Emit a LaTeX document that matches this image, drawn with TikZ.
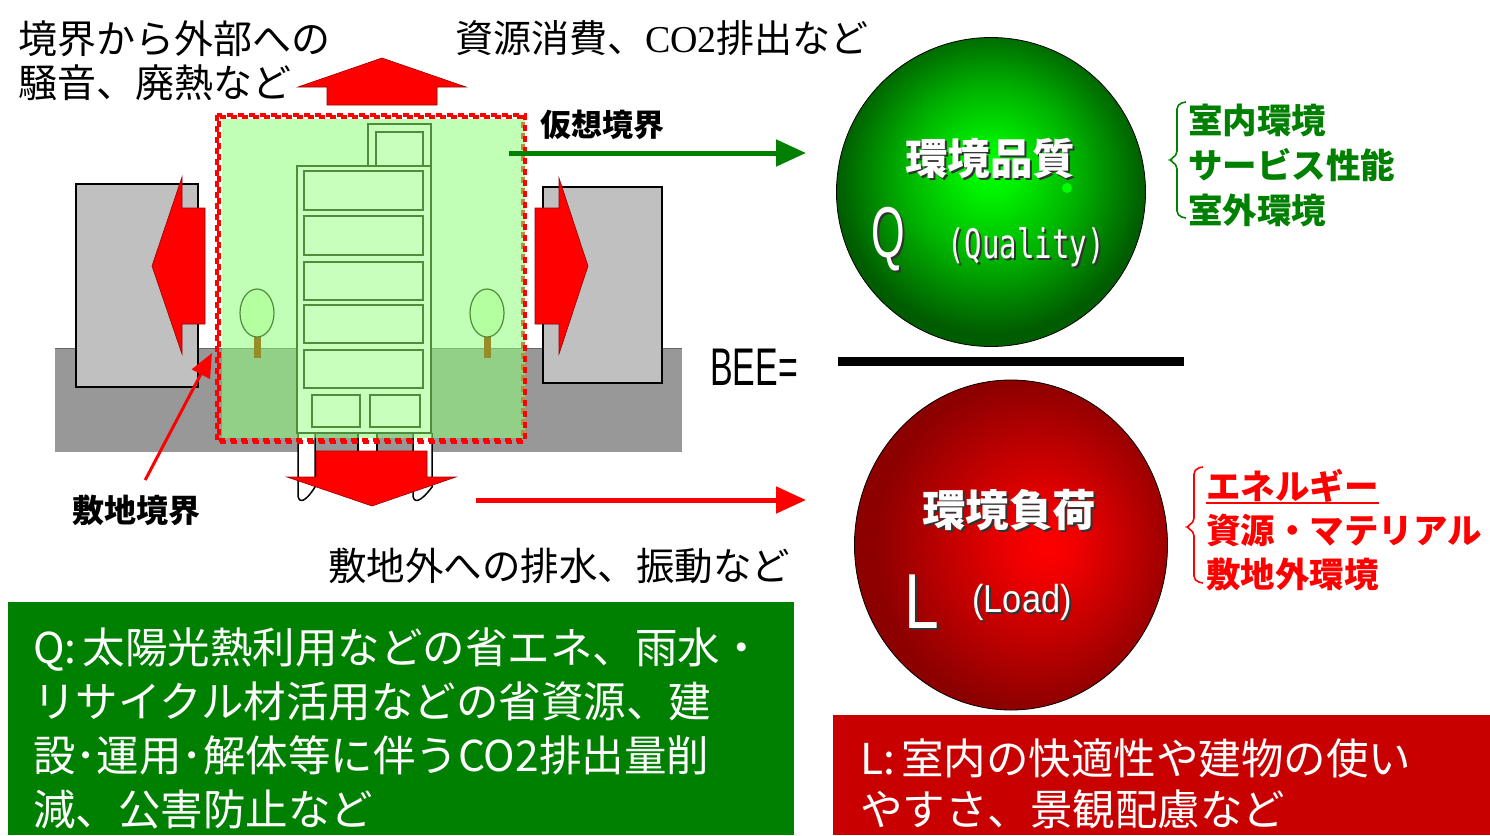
\documentclass[tikz,border=0pt]{standalone}
\usepackage{fontspec}
\newfontfamily\jp{Noto Sans CJK JP}
\newfontfamily\lsans{Liberation Sans}
\newfontfamily\lserif{Liberation Serif}
\newfontfamily\dmono{DejaVu Sans Mono}
\usetikzlibrary{arrows.meta, shapes.geometric}

\definecolor{qgreen}{RGB}{0,128,0}
\definecolor{lred}{RGB}{255,0,0}
\definecolor{boxred}{RGB}{200,0,0}
\definecolor{groundgray}{RGB}{152,152,152}
\definecolor{nextdoor}{RGB}{192,192,192}
\definecolor{veil}{RGB}{140,255,120}
\definecolor{bldgfill}{RGB}{200,255,188}
\definecolor{bldgline}{RGB}{80,140,60}
\definecolor{treefill}{RGB}{180,255,160}
\definecolor{trunk}{RGB}{150,140,40}

% shaded spheres for Q and L
\pgfdeclareradialshading{qsphere}{\pgfpoint{0bp}{4bp}}{rgb(0bp)=(0,1,0); rgb(4bp)=(0,0.95,0); rgb(14bp)=(0,0.70,0); rgb(25bp)=(0,0.36,0); rgb(50bp)=(0,0.36,0)}
\pgfdeclareradialshading{lsphere}{\pgfpoint{6bp}{0bp}}{rgb(0bp)=(1,0,0); rgb(5bp)=(0.94,0,0); rgb(25bp)=(0.55,0,0); rgb(50bp)=(0.55,0,0)}

% white lettering with a dark drop shadow
\newcommand{\whitelabel}[4]{%
  \node[anchor=base, inner sep=0pt, font=#3, text=black!80] (#1-shadow) at ([xshift=2pt,yshift=-2pt]#2) {#4};
  \node[anchor=base, inner sep=0pt, font=#3, text=white] (#1) at (#2) {#4};
}

\begin{document}
\begin{tikzpicture}[
    x=1pt, y=-1pt,
    jptext/.style={anchor=base west, inner sep=0pt, font=\jp\fontsize{39}{46}\selectfont},
    boldlabel/.style={anchor=base west, inner sep=0pt, font=\jp\bfseries\fontsize{31}{38}\selectfont},
    listtext/.style={anchor=base west, inner sep=0pt, font=\jp\bfseries\fontsize{34.5}{40}\selectfont},
    boxtext/.style={anchor=base west, inner sep=0pt, text=white, font=\jp\fontsize{42.5}{50}\selectfont},
    redblock/.style={fill=lred, draw=red!60!black, line width=0.6pt},
    winbox/.style={draw=bldgline, line width=1.6pt, fill=bldgfill},
    flow/.style={line width=5pt, -{Triangle[length=30pt, width=26pt]}},
    bracepath/.style={line width=1.6pt, rounded corners=5pt}
]
\useasboundingbox (0,0) rectangle (1490,835);

% ===== Site: ground and neighbours =====
\fill[groundgray] (55,348) rectangle (682,452);
\draw[black!60, line width=1pt] (55,348) -- (682,348);
\draw[fill=nextdoor, draw=black, line width=1.5pt] (76,184) rectangle (198,387);
\draw[fill=nextdoor, draw=black, line width=1.5pt] (543,187) rectangle (662,383);

% sideways arrows into the neighbours
\draw[redblock] (205,208) -- (182,208) -- (182,177) -- (152,266) -- (182,354) -- (182,324) -- (205,324) -- cycle;
\draw[redblock] (535,208) -- (559,208) -- (559,178) -- (588,266) -- (559,354) -- (559,324) -- (535,324) -- cycle;

% upward arrow
\draw[redblock] (327,105) -- (327,87) -- (298,87) -- (382,58) -- (466,87) -- (437,87) -- (437,105) -- cycle;

% drain pipes below the building
\draw[fill=white, draw=black, line width=1.5pt] (298,433) -- (298,496) .. controls (299,503) and (305,503) .. (315,487) -- (315,433);
\draw[fill=white, draw=black, line width=1.5pt] (413,433) -- (413,496) .. controls (414,503) and (420,503) .. (432,487) -- (432,433);
\draw[fill=white, draw=black, line width=1.5pt] (358,433) rectangle (377,452);

% downward arrow
\draw[redblock] (316,451) -- (316,477) -- (287,477) -- (372,506) -- (456,477) -- (427,477) -- (427,451) -- cycle;

% ===== Virtual boundary =====
\node[draw=lred, line width=4pt, dash pattern=on 6pt off 5pt, minimum width=304pt, minimum height=323pt,
      inner sep=0pt] (virtual) at (371,278.5) {};
\fill[veil, opacity=0.55] (222,119) rectangle (525,438);

% building
\draw[winbox] (368,124) rectangle (431,166);
\draw[winbox] (376,132) rectangle (423,166);
\draw[winbox] (297,166) rectangle (431,433);
\foreach \top/\bot in {171/210, 216/255, 262/300, 305/343, 350/388}
  \draw[winbox] (304,\top) rectangle (423,\bot);
\draw[winbox] (312,395) rectangle (360,427);
\draw[winbox] (370,395) rectangle (420,427);

% trees
\foreach \tx in {257, 487} {
  \fill[trunk] (\tx-3.5,337) rectangle (\tx+3.5,358);
  \draw[fill=treefill, draw=bldgline, line width=1.2pt] (\tx,313) ellipse (17 and 24);
}

% boundary outline on top
\draw[lred, line width=4pt, dash pattern=on 6pt off 5pt] (virtual.north west) rectangle (virtual.south east);

% ===== Labels round the site =====
\node[jptext] (noise1) at (18,53) {境界から外部への};
\node[jptext] (noise2) at (18,97) {騒音、廃熱など};
\node[jptext, font=\jp\fontsize{38}{46}\selectfont] (resource) at (455,52) {資源消費、{\lserif CO2}排出など};
\node[boldlabel] (vlabel) at (540,136) {仮想境界};
\node[boldlabel, font=\jp\bfseries\fontsize{32}{38}\selectfont] (sitelabel) at (72,522) {敷地境界};
\node[jptext, font=\jp\fontsize{38.5}{46}\selectfont] (drain) at (328,580) {敷地外への排水、振動など};

\coordinate (siteedge) at (212,353);
\draw[lred, line width=3pt, -{Triangle[length=24pt, width=20pt]}] ([xshift=9pt,yshift=14pt]sitelabel.north) -- (siteedge);

% ===== BEE = Q / L =====
\node[anchor=base west, inner sep=0pt, font=\lsans\fontsize{53}{60}\selectfont] (bee) at (710,385) {\scalebox{0.64}[1]{BEE=}};
\draw[line width=9pt] (838,361) -- (1184,361);

\node[circle, minimum size=309pt, inner sep=0pt, draw=black, line width=0.8pt, shade, shading=qsphere] (qball) at (991,192) {};
\fill[green] (1067,188) circle (5);
\node[ellipse, minimum width=313pt, minimum height=330pt, inner sep=0pt, draw=black, line width=0.8pt, shade, shading=lsphere] (lball) at (1011,545) {};

\whitelabel{qtitle}{990,174}{\jp\bfseries\fontsize{42.5}{50}\selectfont}{環境品質}
\whitelabel{qletter}{888,257}{\lsans\fontsize{72}{80}\selectfont}{\scalebox{0.6}[1]{Q}}
\whitelabel{qword}{1026,258}{\dmono\fontsize{29}{34}\selectfont}{\scalebox{1}[1.4]{(Quality)}}
\whitelabel{ltitle}{1009,526}{\jp\bfseries\fontsize{43.5}{50}\selectfont}{環境負荷}
\whitelabel{lletter}{922,628}{\lsans\fontsize{78}{86}\selectfont}{\scalebox{0.8}[1]{L}}
\whitelabel{lword}{1022,612}{\lsans\fontsize{39}{46}\selectfont}{\scalebox{0.88}[1]{(Load)}}

% flows into the spheres
\coordinate (qtail) at (509,153);
\coordinate (qhead) at (806,153);
\coordinate (ltail) at (476,500);
\coordinate (lhead) at (806,500);
\draw[flow, qgreen] (qtail) -- (qhead);
\draw[flow, lred] (ltail) -- (lhead);

% ===== Item lists =====
\draw[bracepath, qgreen] (1186,102) -- (1177,104) -- (1177,156) -- (1168,160) -- (1177,164) -- (1177,216) -- (1186,218);
\foreach \item [count=\i] in {室内環境, サービス性能, 室外環境}
  \node[listtext, text=qgreen] (qnote-\i) at (1188, 88+45*\i) {\item};

\draw[bracepath, lred] (1203,467) -- (1194,469) -- (1194,523) -- (1185,527) -- (1194,531) -- (1194,581) -- (1203,583);
\foreach \item [count=\i] in {エネルギー, 資源・マテリアル, 敷地外環境}
  \node[listtext, text=lred] (lnote-\i) at (1206, 455+44*\i) {\item};
\draw[lred, line width=2pt] ([yshift=-4pt]lnote-1.base west) -- ([yshift=-4pt]lnote-1.base east);

% ===== Explanation boxes =====
\fill[qgreen] (8,602) rectangle (794,835);
\foreach \line [count=\i] in {Q:\hspace{6pt}太陽光熱利用などの省エネ、雨水・, リサイクル材活用などの省資源、建, 設･運用･解体等に伴うCO2排出量削, 減、公害防止など}
  \node[boxtext] (qbox-\i) at (33, 609+54*\i) {\line};

\fill[boxred] (833,715) rectangle (1490,835);
\foreach \line [count=\i] in {L:\hspace{6pt}室内の快適性や建物の使い, やすさ、景観配慮など}
  \node[boxtext] (lbox-\i) at (860, 723+51*\i) {\line};

\end{tikzpicture}
\end{document}
